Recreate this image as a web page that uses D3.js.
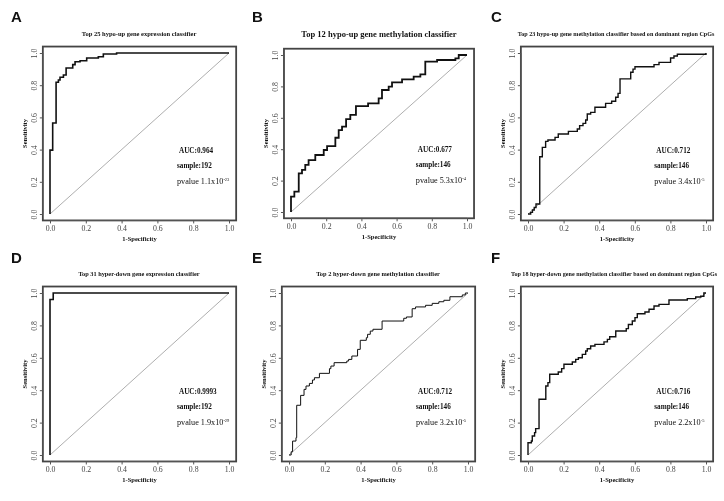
<!DOCTYPE html>
<html><head><meta charset="utf-8">
<script src="https://cdn.jsdelivr.net/npm/d3@7"></script>
<style>body{margin:0;background:#fff}svg{display:block;transform:translateZ(0);-webkit-font-smoothing:antialiased}</style>
</head><body>
<script>
// ---- data ----
const panelLetters = ["A","B","C","D","E","F"];
const panelTitles = [
  "Top 25 hypo-up gene expression classifier",
  "Top 12 hypo-up gene methylation classifier",
  "Top 23 hypo-up gene methylation classifier based on dominant region CpGs",
  "Top 31 hyper-down gene expression classifier",
  "Top 2 hyper-down gene methylation classifier",
  "Top 18 hyper-down gene methylation classifier based on dominant region CpGs"
];
const aucValues = ["0.964","0.677","0.712","0.9993","0.712","0.716"];
const sampleSizes = [192,146,146,192,146,146];
const pvalueMantissa = ["1.1","5.3","3.4","1.9","3.2","2.2"];
const pvalueExponent = ["-23","-4","-5","-29","-5","-5"];
const tickValues = [0,0.2,0.4,0.6,0.8,1.0];
const tickLabels = ["0.0","0.2","0.4","0.6","0.8","1.0"];

// ROC step points: at fpr[i] the curve rises to tpr[i]
const rocA_fpr = [0,0,0.015,0.034,0.047,0.056,0.075,0.09,0.127,0.14,0.168,0.205,0.27,0.298,0.372,1];
const rocA_tpr = [0,0.397,0.565,0.818,0.832,0.849,0.863,0.907,0.928,0.946,0.952,0.969,0.977,0.994,1,1];
const rocB_fpr = [0,0,0.019,0.044,0.0625,0.081,0.100,0.138,0.186,0.205,0.252,0.271,0.29,0.313,0.337,0.369,0.438,0.498,0.517,0.555,0.574,0.631,0.697,0.735,0.763,0.83,0.934,0.953,1];
const rocB_tpr = [0,0.098,0.13,0.246,0.268,0.30,0.331,0.363,0.395,0.42,0.473,0.522,0.544,0.592,0.618,0.675,0.692,0.724,0.777,0.798,0.826,0.845,0.862,0.877,0.958,0.968,0.979,1.0,1];
const rocC_fpr = [0,0.015,0.025,0.035,0.045,0.066,0.0805,0.099,0.112,0.152,0.17,0.227,0.277,0.29,0.309,0.324,0.333,0.352,0.376,0.436,0.47,0.4925,0.506,0.517,0.577,0.59,0.601,0.708,0.736,0.801,0.82,0.839,1];
const rocC_tpr = [0,0.01,0.025,0.04,0.062,0.356,0.414,0.451,0.46,0.476,0.497,0.513,0.528,0.549,0.563,0.584,0.621,0.631,0.663,0.687,0.70,0.725,0.749,0.839,0.88,0.90,0.915,0.928,0.942,0.969,0.981,0.992,1];
const rocD_fpr = [0,0,0.018,1];
const rocD_tpr = [0,0.96,1,1];
const rocE_fpr = [0,0.012,0.02,0.039,0.043,0.065,0.084,0.095,0.114,0.131,0.142,0.17,0.226,0.234,0.252,0.323,0.333,0.351,0.383,0.398,0.432,0.439,0.454,0.469,0.52,0.641,0.656,0.688,0.707,0.763,0.8,0.837,0.865,0.899,0.968,0.985,1];
const rocE_tpr = [0,0.02,0.086,0.107,0.307,0.368,0.405,0.426,0.442,0.463,0.477,0.504,0.533,0.549,0.57,0.58,0.59,0.611,0.652,0.708,0.724,0.745,0.765,0.776,0.827,0.844,0.852,0.903,0.914,0.924,0.936,0.946,0.955,0.977,0.988,1,1];
const rocF_fpr = [0,0,0.019,0.024,0.037,0.043,0.062,0.1,0.112,0.122,0.17,0.189,0.202,0.249,0.268,0.283,0.305,0.324,0.333,0.352,0.376,0.427,0.446,0.459,0.493,0.552,0.564,0.586,0.601,0.614,0.657,0.68,0.708,0.736,0.792,0.895,0.942,0.97,0.988,1];
const rocF_tpr = [0,0.076,0.086,0.117,0.138,0.163,0.344,0.426,0.447,0.498,0.512,0.533,0.56,0.574,0.59,0.6,0.621,0.642,0.656,0.673,0.683,0.698,0.714,0.73,0.765,0.78,0.806,0.827,0.848,0.872,0.883,0.9,0.92,0.93,0.957,0.965,0.975,0.98,1,1];

// ---- layout (pixel geometry of each panel) ----
const geom = [
  {x0:50, x1:229, y0:214, y1:53, lw:1.6, ts:6.5, ty:35.5, tx:139},
  {x0:291,x1:467, y0:212, y1:55, lw:1.8, ts:8.5, ty:37,   tx:379},
  {x0:528,x1:706, y0:214, y1:53, lw:1.4, ts:6.1, ty:35.5, tx:616},
  {x0:50, x1:229, y0:455, y1:293,lw:1.6, ts:6.3, ty:276,  tx:139},
  {x0:289,x1:468, y0:455, y1:293,lw:1.0, ts:6.4, ty:276,  tx:378},
  {x0:528,x1:706, y0:455, y1:293,lw:1.4, ts:6.1, ty:276,  tx:614}
];
const letterPos = [[11,22],[252,22],[491,22],[11,263],[252,263],[491,263]];
const rocFpr = [rocA_fpr,rocB_fpr,rocC_fpr,rocD_fpr,rocE_fpr,rocF_fpr];
const rocTpr = [rocA_tpr,rocB_tpr,rocC_tpr,rocD_tpr,rocE_tpr,rocF_tpr];

const W=724,H=501;
const svg = d3.select("body").append("svg").attr("width",W).attr("height",H);
const serif = "'Liberation Serif','Times New Roman',serif";

panelLetters.forEach((L,i)=>{
  const g = geom[i];
  const x = d3.scaleLinear().domain([0,1]).range([g.x0,g.x1]);
  const y = d3.scaleLinear().domain([0,1]).range([g.y0,g.y1]);
  const bx0 = x(-0.04), bx1 = x(1.04), by0 = y(-0.04), by1 = y(1.04);
  const p = svg.append("g");

  p.append("text").attr("x",letterPos[i][0]).attr("y",letterPos[i][1])
    .attr("font-family","'Liberation Sans',Arial,sans-serif").attr("font-weight","bold")
    .attr("font-size",15).attr("fill","#111").text(L);

  p.append("text").attr("x",g.tx).attr("y",g.ty).attr("text-anchor","middle")
    .attr("font-family",serif).attr("font-weight","bold").attr("font-size",g.ts)
    .attr("fill","#111").text(panelTitles[i]);

  p.append("line").attr("x1",x(0)).attr("y1",y(0)).attr("x2",x(1)).attr("y2",y(1))
    .attr("stroke","#999").attr("stroke-width",0.8);

  const pts = rocFpr[i].map((f,k)=>[f,rocTpr[i][k]]);
  const line = d3.line().x(d=>x(d[0])).y(d=>y(d[1])).curve(d3.curveStepAfter);
  p.append("path").attr("d",line(pts)).attr("fill","none")
    .attr("stroke","#111").attr("stroke-width",g.lw).attr("stroke-linejoin","miter");

  p.append("rect").attr("x",bx0).attr("y",by1).attr("width",bx1-bx0).attr("height",by0-by1)
    .attr("fill","none").attr("stroke","#444").attr("stroke-width",1.8);

  const xa = p.append("g").attr("transform",`translate(0,${by0})`)
    .call(d3.axisBottom(x).tickValues(tickValues).tickFormat((d,k)=>tickLabels[k]).tickSize(3).tickSizeOuter(0));
  xa.select(".domain").attr("stroke","#555").attr("d",`M${x(0)},0H${x(1)}`);
  xa.selectAll(".tick line").attr("stroke","#555");
  xa.selectAll(".tick text").attr("font-family",serif).attr("font-size",7.8).attr("fill","#444").attr("dy","0.85em").attr("y",4);

  const ya = p.append("g").attr("transform",`translate(${bx0},0)`)
    .call(d3.axisLeft(y).tickValues(tickValues).tickFormat((d,k)=>tickLabels[k]).tickSize(3).tickSizeOuter(0));
  ya.select(".domain").attr("stroke","#555").attr("d",`M0,${y(0)}V${y(1)}`);
  ya.selectAll(".tick line").attr("stroke","#555");
  ya.selectAll(".tick text").attr("font-family",serif).attr("font-size",7.8).attr("fill","#444")
    .attr("x",null).attr("dy",null).attr("text-anchor","middle")
    .attr("transform","translate(-6,0) rotate(-90)").attr("y",0);

  p.append("text").attr("x",(bx0+bx1)/2).attr("y",by0+20.5).attr("text-anchor","middle")
    .attr("font-family",serif).attr("font-weight","bold").attr("font-size",6.5).attr("fill","#111")
    .text("1-Specificity");
  p.append("text").attr("transform",`translate(${bx0-16},${(by0+by1)/2}) rotate(-90)`)
    .attr("text-anchor","middle").attr("font-family",serif).attr("font-weight","bold")
    .attr("font-size",6.5).attr("fill","#111").text("Sensitivity");

  const ax = x(0.715);
  p.append("text").attr("x",ax+1).attr("y",y(0.395)+2.5)
    .attr("font-family",serif).attr("font-weight","bold").attr("font-size",7.2).attr("fill","#111")
    .text("AUC:"+aucValues[i]);
  p.append("text").attr("x",ax-1).attr("y",y(0.30)+2.5)
    .attr("font-family",serif).attr("font-weight","bold").attr("font-size",7.2).attr("fill","#111")
    .text("sample:"+sampleSizes[i]);
  const pv = p.append("text").attr("x",ax-1).attr("y",y(0.205)+3)
    .attr("font-family",serif).attr("font-size",8.2).attr("fill","#111");
  pv.append("tspan").text("pvalue "+pvalueMantissa[i]+"x10");
  pv.append("tspan").attr("dy",-3).attr("font-size",4.5).text(pvalueExponent[i]);
});
</script>
</body></html>
